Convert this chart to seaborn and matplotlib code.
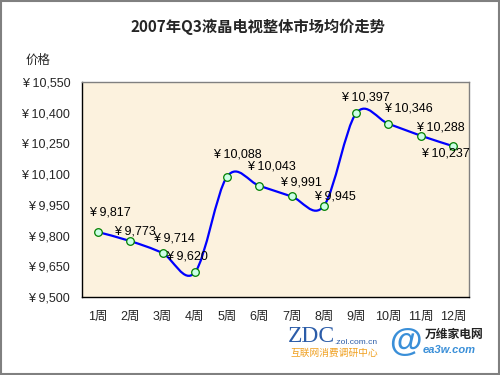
import matplotlib
matplotlib.use("Agg")
import matplotlib.pyplot as plt
import matplotlib.path as mpath
import matplotlib.patches as mpatches
import seaborn as sns
import pandas as pd

weeks = ["1周", "2周", "3周", "4周", "5周", "6周", "7周", "8周", "9周", "10周", "11周", "12周"]
prices = [9817, 9773, 9714, 9620, 10088, 10043, 9991, 9945, 10397, 10346, 10288, 10237]
yticks = [9500, 9650, 9800, 9950, 10100, 10250, 10400, 10550]
title = "2007年Q3液晶电视整体市场均价走势"
ylabel = "价格"

# label offsets in pixels (style only)
label_offsets = [(-9, 20), (-16, 10), (-10, 15), (-29, 16), (-14, 22), (-12, 19),
                 (-12, 14), (-10, 9), (-15, 16), (-4, 15), (-5, 8), (-32, -7)]

sns.set_style("white")
FONT = ["Liberation Sans", "Noto Sans CJK SC", "DejaVu Sans"]
CJK = ["Noto Sans CJK SC", "DejaVu Sans"]
plt.rcParams["font.family"] = FONT

df = pd.DataFrame({"idx": list(range(len(weeks))), "price": prices})

fig = plt.figure(figsize=(5, 3.75), dpi=100)
fig.patch.set_facecolor("white")
ax = fig.add_axes([82 / 500, 1 - 297 / 375, (469 - 82) / 500, (297 - 82) / 375])
ax.set_facecolor("#FCF2DE")

# smoothed line (Excel-like Catmull-Rom Bezier) through data points
xs = list(df["idx"])
ys = list(df["price"])
n = len(xs)
verts = [(xs[0], ys[0])]
codes = [mpath.Path.MOVETO]
for i in range(n - 1):
    p0 = (xs[max(i - 1, 0)], ys[max(i - 1, 0)])
    p1 = (xs[i], ys[i])
    p2 = (xs[i + 1], ys[i + 1])
    p3 = (xs[min(i + 2, n - 1)], ys[min(i + 2, n - 1)])
    c1 = (p1[0] + (p2[0] - p0[0]) / 6, p1[1] + (p2[1] - p0[1]) / 6)
    c2 = (p2[0] - (p3[0] - p1[0]) / 6, p2[1] - (p3[1] - p1[1]) / 6)
    verts += [c1, c2, p2]
    codes += [mpath.Path.CURVE4] * 3
path = mpath.Path(verts, codes)
ax.add_patch(mpatches.PathPatch(path, facecolor="none", edgecolor="#0000FF", lw=1.6, zorder=3))

sns.scatterplot(data=df, x="idx", y="price", ax=ax, marker="o", s=30,
                facecolor="#CCFFE6", edgecolor="#008000", linewidth=0.9, zorder=4)

for i, (x, y) in enumerate(zip(xs, ys)):
    dx, dy = label_offsets[i]
    ax.annotate(f"¥ {y:,}", (x, y), xytext=(dx, dy), textcoords="offset pixels",
                ha="left", va="center", fontsize=9, color="black", zorder=5)

ax.set_xlim(-0.5, n - 0.5)
ax.set_ylim(9500, 10550)
ax.set_yticks(yticks)
ax.set_yticklabels([f"¥ {v:,}" for v in yticks], fontsize=9)
ax.set_xticks([i - 0.5 for i in range(n + 1)], minor=False)
ax.set_xticklabels([])
ax.set_xticks(range(n), minor=True)
ax.set_xticklabels(weeks, minor=True, fontsize=9)
ax.tick_params(axis="x", which="major", direction="out", length=3.5, width=0.8, color="black")
ax.tick_params(axis="x", which="minor", length=0, pad=10)
ax.tick_params(axis="y", direction="out", length=3.5, width=0.8, color="black", pad=5)
ax.set_xlabel("")
ax.set_ylabel("")
for side in ["top", "right"]:
    ax.spines[side].set_color("#808080")
    ax.spines[side].set_linewidth(1.0)
for side in ["left", "bottom"]:
    ax.spines[side].set_color("black")
    ax.spines[side].set_linewidth(1.0)

fig.text(0.516, 1 - 27 / 375, title, ha="center", va="center", fontsize=11,
         fontweight="bold", family=CJK)
fig.text(38 / 500, 1 - 60 / 375, ylabel, ha="center", va="center", fontsize=9, family=CJK)

# logos as text
fig.text(288 / 500, 1 - 337 / 375, "ZDC", ha="left", va="center", fontsize=17,
         color="#2B5CA8", family=["Liberation Serif", "DejaVu Serif"])
fig.text(334 / 500, 1 - 342 / 375, ".zol.com.cn", ha="left", va="center", fontsize=6,
         color="#2B5CA8")
fig.text(290 / 500, 1 - 353 / 375, "互联网消费调研中心", ha="left", va="center", fontsize=7,
         color="#F0A020", family=CJK)
fig.text(405 / 500, 1 - 343 / 375, "@", ha="center", va="center", fontsize=24,
         color="#3A8FD8", fontweight="bold")
fig.text(425 / 500, 1 - 334 / 375, "万维家电网", ha="left", va="center", fontsize=8.5,
         fontweight="bold", color="#222222", family=CJK)
fig.text(423 / 500, 1 - 350 / 375, "ea3w.com", ha="left", va="center", fontsize=8,
         fontweight="bold", style="italic", color="#3A8FD8")

fig.patches.append(mpatches.Rectangle((0.001, 0.002), 0.997, 0.996, transform=fig.transFigure,
                                      fill=False, edgecolor="#808080", lw=1.5))

fig.savefig("out.png", dpi=100)
